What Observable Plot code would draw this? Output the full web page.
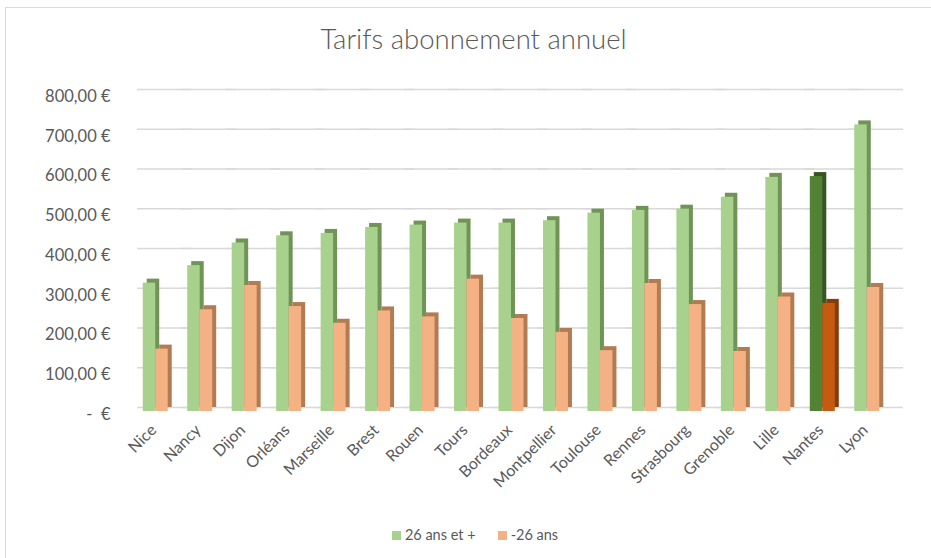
<!DOCTYPE html>
<html>
<head>
<meta charset="utf-8">
<script src="https://cdn.jsdelivr.net/npm/d3@7"></script>
<script src="https://cdn.jsdelivr.net/npm/@observablehq/plot@0.6"></script>
<style>
  html, body { margin: 0; padding: 0; background: #fff; }
  #frame { position: absolute; left: 5px; top: 7px; width: 940px; height: 560px; border: 1px solid #d9d9d9; box-sizing: border-box; }
  #title { position: absolute; left: 0; top: 22px; width: 947px; text-align: center; font-family: Lato, "Open Sans", sans-serif; font-weight: 300; font-size: 27.5px; color: #595959; }
  #chart { position: absolute; left: 0; top: 60px; }
  #legend { position: absolute; top: 526px; left: 0; width: 950px; text-align: center; font-family: Lato, sans-serif; font-size: 14.5px; color: #595959; }
  #legend span.sw { display: inline-block; width: 9px; height: 9px; margin-right: 4px; vertical-align: 0px; }
  #legend span.item { margin: 0 11px; }
</style>
</head>
<body>
<div id="frame"></div>
<div id="title">Tarifs abonnement annuel</div>
<div id="chart"></div>
<div id="legend"></div>
<script>
// ---- data ----
const cities = ["Nice","Nancy","Dijon","Orléans","Marseille","Brest","Rouen","Tours","Bordeaux","Montpellier","Toulouse","Rennes","Strasbourg","Grenoble","Lille","Nantes","Lyon"];
const series = ["26 ans et +", "-26 ans"];
const adult = [323, 367, 424, 442, 448, 463, 469, 474, 474, 480, 499, 506, 509, 539, 589, 591, 721];
const young = [157, 256, 317, 264, 222, 253, 238, 333, 234, 199, 153, 322, 269, 151, 288, 272, 312];
const highlight = "Nantes";
const yTicks = [0, 100, 200, 300, 400, 500, 600, 700, 800];

// ---- styles ----
const front = {"26 ans et +": "#A9D18E", "-26 ans": "#F4B183"};
const side  = {"26 ans et +": "#6F9456", "-26 ans": "#B37B52"};
const frontHi = {"26 ans et +": "#548235", "-26 ans": "#C55A11"};
const sideHi  = {"26 ans et +": "#375722", "-26 ans": "#833C0B"};

const rows = [];
cities.forEach((c, i) => {
  rows.push({city: c, series: series[0], value: adult[i]});
  rows.push({city: c, series: series[1], value: young[i]});
});

const fmt = v => v === 0 ? "-  €" : d3.format(",.2f")(v).replace(/,/g, " ").replace(".", ",") + " €";

const depthX = 4, depthY = -4;

const chart = Plot.plot({
  width: 931,
  height: 460,
  marginLeft: 133,
  marginRight: 42,
  marginTop: 33,
  marginBottom: 109,
  style: {fontFamily: "Lato, sans-serif", fontSize: "13px", color: "#595959", background: "transparent"},
  fx: {domain: cities, padding: 0, round: false, label: null},
  x: {domain: series, paddingInner: 0, paddingOuter: 0.78, round: false, axis: null},
  y: {domain: [0, 800], ticks: yTicks, label: null},
  axis: null,
  marks: [
    Plot.ruleY(yTicks, {y: d => d, stroke: "#d9d9d9", strokeWidth: 1.4, dx: depthX, dy: depthY, insetRight: -10, insetLeft: 0}),
    Plot.axisY(yTicks, {tickFormat: fmt, tickSize: 0, tickPadding: 23, dy: 3, fill: "#595959", fontSize: 16.5}),
    Plot.axisFx({anchor: "bottom", tickRotate: -45, tickSize: 0, tickPadding: 16, fill: "#595959", fontSize: 16, label: null, dx: -2}),
    // 3D side/top faces
    Plot.barY(rows, {fx: "city", x: "series", y: "value", dx: depthX, dy: depthY,
      fill: d => d.city === highlight ? sideHi[d.series] : side[d.series]}),
    // front faces
    Plot.barY(rows, {fx: "city", x: "series", y: "value",
      fill: d => d.city === highlight ? frontHi[d.series] : front[d.series]})
  ]
});
document.getElementById("chart").appendChild(chart);

// legend
const lg = document.getElementById("legend");
series.forEach(s => {
  const it = document.createElement("span");
  it.className = "item";
  const sw = document.createElement("span");
  sw.className = "sw";
  sw.style.background = front[s];
  it.appendChild(sw);
  it.appendChild(document.createTextNode(s));
  lg.appendChild(it);
});
</script>
</body>
</html>
